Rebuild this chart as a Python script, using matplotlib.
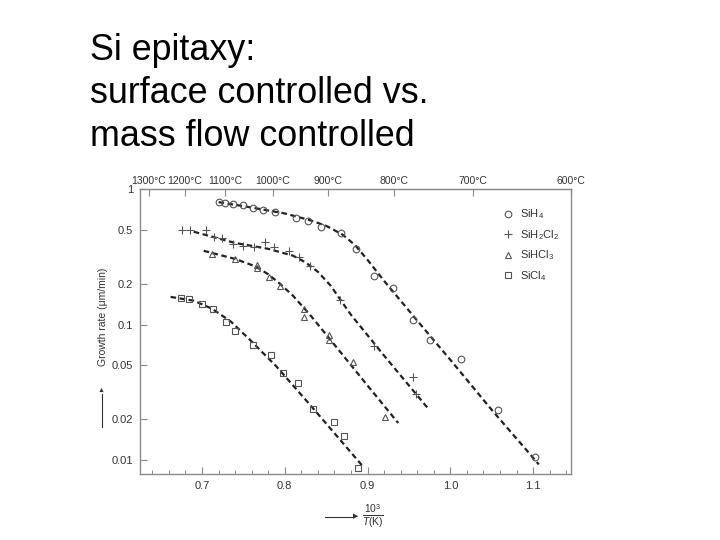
import matplotlib
matplotlib.use("Agg")
import matplotlib.pyplot as plt
from matplotlib.ticker import FixedLocator, NullFormatter, NullLocator

plt.rcParams['font.family'] = ['Liberation Sans', 'DejaVu Sans']
plt.rcParams['mathtext.fontset'] = 'custom'
plt.rcParams['mathtext.rm'] = 'Liberation Sans'
plt.rcParams['mathtext.it'] = 'Liberation Sans:italic'

# measured points (x = 1000/T, y = growth rate um/min)
sih4_x = [0.720, 0.728, 0.737, 0.749, 0.761, 0.774, 0.788, 0.813, 0.828, 0.844,
          0.868, 0.886, 0.908, 0.931, 0.955, 0.976, 1.013, 1.058, 1.102]
sih4_y = [0.806, 0.784, 0.771, 0.758, 0.728, 0.700, 0.676, 0.614, 0.584, 0.527,
          0.476, 0.361, 0.228, 0.185, 0.108, 0.077, 0.056, 0.0234, 0.0105]

sih2cl2_x = [0.676, 0.686, 0.705, 0.714, 0.724, 0.737, 0.750, 0.763, 0.776, 0.787,
             0.805, 0.817, 0.831, 0.867, 0.908, 0.955, 0.958]
sih2cl2_y = [0.498, 0.498, 0.498, 0.445, 0.437, 0.391, 0.380, 0.375, 0.404, 0.371,
             0.349, 0.316, 0.270, 0.152, 0.069, 0.041, 0.031]

sihcl3_x = [0.712, 0.740, 0.766, 0.766, 0.781, 0.794, 0.823, 0.823, 0.853, 0.853,
            0.883, 0.921]
sihcl3_y = [0.331, 0.302, 0.275, 0.260, 0.225, 0.194, 0.130, 0.114, 0.084, 0.077,
            0.053, 0.0207]

sicl4_x = [0.674, 0.684, 0.700, 0.713, 0.729, 0.740, 0.762, 0.783, 0.798, 0.816,
           0.834, 0.859, 0.872, 0.889]
sicl4_y = [0.158, 0.155, 0.142, 0.131, 0.105, 0.090, 0.071, 0.060, 0.044, 0.037,
           0.0237, 0.0190, 0.0150, 0.0087]

# dashed fit curves
fit_sih4_x = [0.720, 0.760, 0.800, 0.830, 0.850, 0.870, 0.885, 0.900, 0.920, 0.960,
              1.000, 1.050, 1.107]
fit_sih4_y = [0.800, 0.730, 0.660, 0.590, 0.535, 0.460, 0.385, 0.300, 0.210, 0.107,
              0.055, 0.0235, 0.0093]

fit_sih2cl2_x = [0.690, 0.740, 0.780, 0.810, 0.825, 0.840, 0.855, 0.880, 0.920, 0.974]
fit_sih2cl2_y = [0.484, 0.400, 0.362, 0.322, 0.288, 0.245, 0.195, 0.118, 0.059, 0.0237]

fit_sihcl3_x = [0.702, 0.740, 0.765, 0.780, 0.795, 0.810, 0.830, 0.860, 0.900, 0.937]
fit_sihcl3_y = [0.350, 0.305, 0.268, 0.235, 0.198, 0.163, 0.119, 0.071, 0.0355, 0.0188]

fit_sicl4_x = [0.662, 0.690, 0.712, 0.735, 0.760, 0.790, 0.830, 0.860, 0.893]
fit_sicl4_y = [0.160, 0.150, 0.131, 0.105, 0.075, 0.049, 0.0258, 0.0158, 0.0092]

y_ticks = [0.01, 0.02, 0.05, 0.1, 0.2, 0.5, 1]
y_labels = ["0.01", "0.02", "0.05", "0.1", "0.2", "0.5", "1"]
x_ticks = [0.7, 0.8, 0.9, 1.0, 1.1]
x_labels = ["0.7", "0.8", "0.9", "1.0", "1.1"]
x_minor = [0.64, 0.66, 0.68, 0.72, 0.74, 0.76, 0.78, 0.82, 0.84, 0.86, 0.88,
           0.92, 0.94, 0.96, 0.98, 1.02, 1.04, 1.06, 1.08, 1.12, 1.14]
temps_c = [1300, 1200, 1100, 1000, 900, 800, 700, 600]

fig = plt.figure(figsize=(7.2, 5.4), dpi=100)
ax = fig.add_axes([0.1944, 0.1222, 0.5986, 0.5278])

gray = "#555555"
axc = "#8a8a8a"
mk = dict(linestyle="none", markerfacecolor="none", markeredgecolor=gray,
          markeredgewidth=0.8, color=gray)

for fx, fy in [(fit_sih4_x, fit_sih4_y), (fit_sih2cl2_x, fit_sih2cl2_y),
               (fit_sihcl3_x, fit_sihcl3_y), (fit_sicl4_x, fit_sicl4_y)]:
    ax.plot(fx, fy, color="#222222", linestyle=(0, (2.5, 1.6)), linewidth=1.6)

ax.plot(sih4_x, sih4_y, marker="o", markersize=4.8, label="SiH$_4$", **mk)
ax.plot(sih2cl2_x, sih2cl2_y, marker="+", markersize=6, label="SiH$_2$Cl$_2$", **mk)
ax.plot(sihcl3_x, sihcl3_y, marker="^", markersize=5, label="SiHCl$_3$", **mk)
ax.plot(sicl4_x, sicl4_y, marker="s", markersize=4.4, label="SiCl$_4$", **mk)

ax.set_yscale("log")
ax.set_xlim(0.625, 1.1458)
ax.set_ylim(0.0079, 1.0)
ax.yaxis.set_major_locator(FixedLocator(y_ticks))
ax.set_yticklabels(y_labels)
ax.yaxis.set_minor_locator(NullLocator())
ax.yaxis.set_minor_formatter(NullFormatter())
ax.xaxis.set_major_locator(FixedLocator(x_ticks))
ax.set_xticklabels(x_labels)
ax.xaxis.set_minor_locator(FixedLocator(x_minor))

for s in ax.spines.values():
    s.set_color(axc)
    s.set_linewidth(1.0)
ax.tick_params(axis="both", which="major", direction="in", length=5, width=0.8,
               color=axc, labelsize=8, labelcolor="#333333", pad=5)
ax.tick_params(axis="x", which="minor", direction="in", length=3, width=0.7, color=axc)

top = ax.secondary_xaxis("top", functions=(lambda v: v, lambda v: v))
top.set_xticks([1000.0 / (t + 273.15) for t in temps_c])
top.set_xticklabels([f"{t}\u00b0C" for t in temps_c])
top.tick_params(direction="in", length=5, width=0.8, color=axc, labelsize=7.5,
                labelcolor="#333333", pad=2)
top.spines["top"].set_color(axc)

leg = ax.legend(loc="upper left", bbox_to_anchor=(0.83, 0.95), frameon=False,
                fontsize=8, handlelength=1.0, handletextpad=0.6, labelspacing=0.6,
                borderaxespad=0)
for t in leg.get_texts():
    t.set_color("#333333")

fig.text(103 / 720, 1 - 317 / 540, "Growth rate (\u03bcm/min)", rotation=90,
         ha="center", va="center", fontsize=7.5, color="#333333")
fig.add_artist(plt.Line2D([101.5 / 720, 101.5 / 720], [1 - 427 / 540, 1 - 394 / 540],
                          color="#333333", linewidth=0.8))
fig.text(101.5 / 720, 1 - 391 / 540, "\u25b2", ha="center", va="center",
         fontsize=5, color="#333333")

fig.add_artist(plt.Line2D([325 / 720, 353 / 720], [1 - 517 / 540, 1 - 517 / 540],
                          color="#333333", linewidth=0.8))
fig.text(356 / 720, 1 - 517 / 540, "\u25b6", ha="center", va="center",
         fontsize=5, color="#333333")
fig.text(373 / 720, 1 - 516 / 540, r"$\frac{10^3}{T\mathrm{(K)}}$", ha="center",
         va="center", fontsize=10.5, color="#333333")

fig.text(90 / 720, 1 - 60 / 540, "Si epitaxy:", fontsize=25.8, va="baseline")
fig.text(90 / 720, 1 - 103 / 540, "surface controlled vs.", fontsize=25.8, va="baseline")
fig.text(90 / 720, 1 - 146 / 540, "mass flow controlled", fontsize=25.8, va="baseline")

fig.savefig("out.png", dpi=100)
